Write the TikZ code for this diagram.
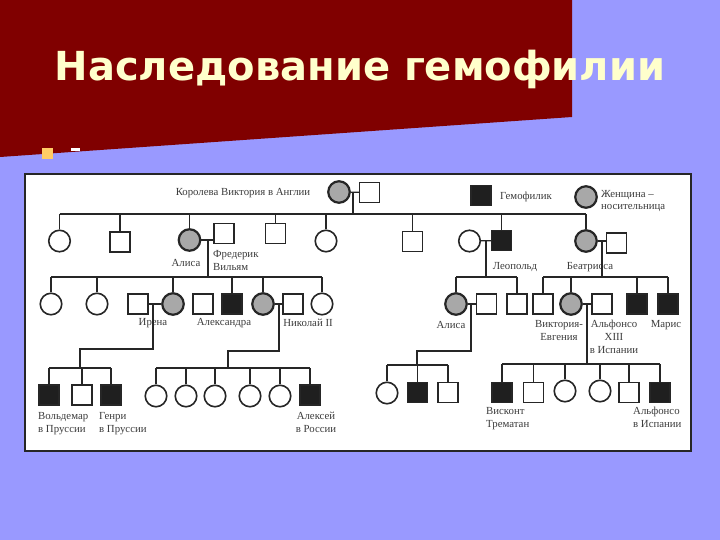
\documentclass[tikz,border=0pt]{standalone}
\usepackage{fontspec}
\setmainfont{Liberation Serif}
\newfontfamily\titlefont{DejaVu Sans}
\definecolor{slideblue}{HTML}{9999FF}
\definecolor{slidered}{HTML}{800000}
\definecolor{titlecream}{HTML}{FFFFCC}
\definecolor{bulletorange}{HTML}{FFCC66}
\definecolor{carriergray}{HTML}{A8A8A8}
\definecolor{ink}{HTML}{262626}
\begin{document}
\begin{tikzpicture}[
    x=1pt, y=-1pt,
    female/.style={circle, draw=ink, line width=1.6pt, minimum size=21.5pt, inner sep=0pt},
    carrier/.style={female, fill=carriergray, line width=2.2pt},
    male/.style={rectangle, draw=ink, line width=1.4pt, minimum size=20pt, inner sep=0pt},
    affected/.style={male, fill=black!88},
    nametext/.style={font=\fontsize{10.8}{12.8}\selectfont, text=ink!90, inner sep=0pt, align=center},
    kin/.style={draw=ink, line width=1.2pt}
]
\useasboundingbox (0,0) rectangle (720,540);

% Slide background
\fill[slideblue] (0,0) rectangle (720,540);
\fill[slidered] (0,0) -- (572,0) -- (572,117) -- (0,157) -- cycle;
\node[font=\titlefont\bfseries\fontsize{40}{44}\selectfont, text=titlecream, anchor=base] (title) at (360,81) {Наследование гемофилии};
\fill[bulletorange] (42,148) rectangle (53,159);
\fill[white] (71,148) rectangle (80,151);

% Pedigree frame
\draw[fill=white, draw=ink, line width=1.6pt] (25,174) rectangle (691,451);

% Queen Victoria
\node[carrier] (victoria) at (339,192) {};
\node[male] (albert) at (369.5,192.5) {};
\node[nametext] (lbVictoria) at (243,193) {Королева Виктория в Англии};

% Legend
\node[affected] (legHem) at (481,195.5) {};
\node[nametext, anchor=west] (lbHem) at (500,197) {Гемофилик};
\node[carrier] (legCar) at (586,197) {};
\node[nametext, anchor=west, align=left] (lbCar) at (601,201) {Женщина --\\носительница};

% Generation 1
\node[female] (c1) at (59.5,241) {};
\node[male] (c2) at (120,242) {};
\node[carrier] (alisa) at (189.5,240) {};
\node[male] (frederik) at (224,233.5) {};
\node[male] (c4) at (275.5,233.5) {};
\node[female] (c5) at (326,241) {};
\node[male] (c6) at (412.5,241.5) {};
\node[female] (helena) at (469.5,241) {};
\node[affected] (leopold) at (501.5,240.5) {};
\node[carrier] (beatrice) at (586,241) {};
\node[male] (henry) at (616.5,243) {};

\node[nametext] (lbAlisa) at (186,263) {Алиса};
\node[nametext, anchor=west, align=left] (lbFrederik) at (213,260.5) {Фредерик\\Вильям};
\node[nametext] (lbLeopold) at (515,267) {Леопольд};
\node[nametext] (lbBeatrice) at (590,267) {Беатрисса};

% Generation 2
\node[female] (a1) at (51,304) {};
\node[female] (a2) at (97,304) {};
\node[male] (irenaH) at (138,304) {};
\node[carrier] (irena) at (173,304) {};
\node[male] (a5) at (203,304) {};
\node[affected] (a6) at (232,304) {};
\node[carrier] (alexandra) at (263,304) {};
\node[male] (nicholas) at (293,304) {};
\node[female] (a8) at (322,304) {};

\node[carrier] (alice) at (456,304) {};
\node[male] (teck) at (486.5,304) {};
\node[male] (l2) at (517,304) {};

\node[male] (b1) at (543,304) {};
\node[carrier] (eugenie) at (571,304) {};
\node[male] (alfonso) at (602,304) {};
\node[affected] (b3) at (637,304) {};
\node[affected] (maurice) at (668,304) {};

\node[nametext] (lbIrena) at (153,323) {Ирена};
\node[nametext] (lbAlexandra) at (224,323) {Александра};
\node[nametext] (lbNicholas) at (308,323) {Николай II};
\node[nametext] (lbAlice) at (451,325) {Алиса};
\node[nametext, anchor=north] (lbEugenie) at (559,320) {Виктория-\\Евгения};
\node[nametext, anchor=north] (lbAlfonso) at (614,320) {Альфонсо\\XIII\\в Испании};
\node[nametext] (lbMaurice) at (666,325) {Марис};

% Generation 3
\node[affected] (waldemar) at (49,395) {};
\node[male] (i2) at (82,395) {};
\node[affected] (henryP) at (111,395) {};

\foreach \k/\x in {n1/156, n2/186, n3/215, n4/250, n5/280}
    \node[female] (\k) at (\x,396) {};
\node[affected] (alexei) at (310,395) {};

\node[female] (t1) at (387,393) {};
\node[affected] (t2) at (417.5,392.5) {};
\node[male] (t3) at (448,392.5) {};

\node[affected] (s1) at (502,392.5) {};
\node[male] (s2) at (533.5,392.5) {};
\node[female] (s3) at (565,391) {};
\node[female] (s4) at (600,391) {};
\node[male] (s5) at (629,392.5) {};
\node[affected] (s6) at (660,392.5) {};

\node[nametext, anchor=north west, align=left] (lbWaldemar) at (38,412) {Вольдемар\\в Пруссии};
\node[nametext, anchor=north west, align=left] (lbHenryP) at (99,412) {Генри\\в Пруссии};
\node[nametext, anchor=north] (lbAlexei) at (316,412) {Алексей\\в России};
\node[nametext, anchor=north west, align=left] (lbViscount) at (486,407) {Висконт\\Трематан};
\node[nametext, anchor=north west, align=left] (lbAlfonsoJr) at (633,407) {Альфонсо\\в Испании};

% Marriages
\draw[kin] (victoria) -- (albert);
\draw[kin] (alisa.east) -- (alisa.east -| frederik.west);
\draw[kin] (helena) -- (leopold);
\draw[kin] (beatrice.east) -- (beatrice.east -| henry.west);
\draw[kin] (irenaH) -- (irena);
\draw[kin] (alexandra) -- (nicholas);
\draw[kin] (alice) -- (teck);
\draw[kin] (eugenie) -- (alfonso);

% Descent coordinates
\coordinate (m0) at (353,192);  \coordinate (d0) at (353,214);
\coordinate (m1) at (208,240);  \coordinate (d1) at (208,277);
\coordinate (m2) at (486,241);  \coordinate (d2) at (486,277);
\coordinate (m3) at (602,242);  \coordinate (d3) at (602,277);
\coordinate (m5) at (153,304);  \coordinate (d5) at (80,368);
\coordinate (m6) at (279,304);  \coordinate (d6) at (228,368);
\coordinate (m7) at (471,304);  \coordinate (d7) at (417,365);
\coordinate (m8) at (587,304);  \coordinate (d8) at (587,364);

\draw[kin] (m0) -- (d0);
\draw[kin] (m1) -- (d1);
\draw[kin] (m2) -- (d2);
\draw[kin] (m3) -- (d3);
\draw[kin] (m5) -- ++(0,45) -| (d5);
\draw[kin] (m6) -- ++(0,47) -| (d6);
\draw[kin] (m7) -- ++(0,47) -| (d7);
\draw[kin] (m8) -- (d8);

% Sibships
\draw[kin] (c1.north |- d0) -- (beatrice.north |- d0);
\foreach \c in {c1,c2,alisa,c4,c5,c6,leopold,beatrice}
    \draw[kin] (\c.north) -- (\c.north |- d0);

\draw[kin] (a1.north |- d1) -- (a8.north |- d1);
\foreach \c in {a1,a2,irena,a6,alexandra,a8}
    \draw[kin] (\c.north) -- (\c.north |- d1);

\draw[kin] (alice.north |- d2) -- (l2.north |- d2);
\foreach \c in {alice,l2}
    \draw[kin] (\c.north) -- (\c.north |- d2);

\draw[kin] (b1.north |- d3) -- (maurice.north |- d3);
\foreach \c in {b1,eugenie,b3,maurice}
    \draw[kin] (\c.north) -- (\c.north |- d3);

\draw[kin] (waldemar.north |- d5) -- (henryP.north |- d5);
\foreach \c in {waldemar,i2,henryP}
    \draw[kin] (\c.north) -- (\c.north |- d5);

\draw[kin] (n1.north |- d6) -- (alexei.north |- d6);
\foreach \c in {n1,n2,n3,n4,n5,alexei}
    \draw[kin] (\c.north) -- (\c.north |- d6);

\draw[kin] (t1.north |- d7) -- (t3.north |- d7);
\foreach \c in {t1,t2,t3}
    \draw[kin] (\c.north) -- (\c.north |- d7);

\draw[kin] (s1.north |- d8) -- (s6.north |- d8);
\foreach \c in {s1,s2,s3,s4,s5,s6}
    \draw[kin] (\c.north) -- (\c.north |- d8);

\end{tikzpicture}
\end{document}
